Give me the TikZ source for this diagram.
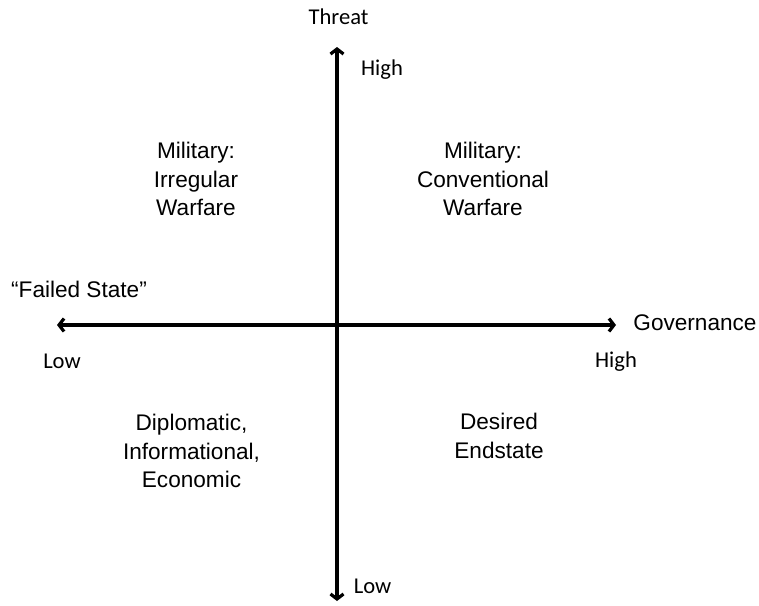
\documentclass[tikz,border=0pt]{standalone}
\usepackage{fontspec}
\setmainfont{Liberation Sans}
\newfontfamily\calib{Carlito}
\usetikzlibrary{arrows.meta}
\tikzstyle{quad}=[align=center,font=\fontsize{22.6}{28.3}\selectfont,inner sep=0pt]
\tikzstyle{axlabel}=[anchor=base,font=\fontsize{22.6}{27}\selectfont,inner sep=0pt]
\tikzstyle{endlabel}=[anchor=base,font=\calib\fontsize{22.6}{27}\selectfont,inner sep=0pt]
\tikzstyle{axis}=[line width=3.2pt,{Straight Barb[length=5pt,width=13pt,line width=3.2pt]}-{Straight Barb[length=5pt,width=13pt,line width=3.2pt]}]

\begin{document}
\begin{tikzpicture}[x=1pt,y=-1pt]
    \useasboundingbox (0,0) rectangle (759,605);
    \coordinate (top) at (337,47);
    \coordinate (bot) at (337,601);
    \coordinate (lft) at (57,325);
    \coordinate (rgt) at (616,325);

    \node[endlabel] (threat) at (338.5,24) {Threat};
    \node[endlabel] (thigh) at (382,75) {High};
    \node[endlabel] (tlow) at (372.5,593) {Low};
    \node[endlabel] (glow) at (62,368) {Low};
    \node[endlabel] (ghigh) at (616,367) {High};
    \node[axlabel] (gov) at (695,330) {Governance};
    \node[axlabel] (failed) at (79,297) {``Failed State''};

    \node[quad] (irreg) at (196,179) {Military:\\Irregular\\Warfare};
    \node[quad] (conv) at (483,179) {Military:\\Conventional\\Warfare};
    \node[quad] (dime) at (191.5,451) {Diplomatic,\\Informational,\\Economic};
    \node[quad] (desired) at (499,436) {Desired\\Endstate};

    \draw[axis] (bot) -- (top);
    \draw[axis] (lft) -- (rgt);
\end{tikzpicture}
\end{document}
